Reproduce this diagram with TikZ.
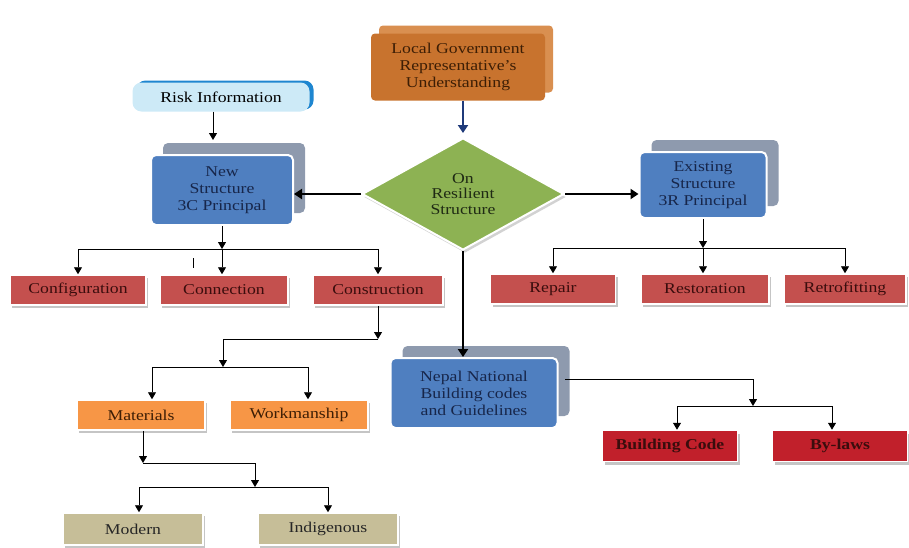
\documentclass[tikz,border=0pt]{standalone}
\usepackage{fontspec}
\setmainfont{Liberation Serif}[FakeStretch=1.18]
\usetikzlibrary{shapes.geometric,shadows,arrows.meta}
\definecolor{boxblue}{HTML}{4F7FC0}
\definecolor{backgray}{HTML}{8E9AAE}
\definecolor{navytxt}{HTML}{17264A}
\definecolor{redbox}{HTML}{C4504E}
\definecolor{darkredbox}{HTML}{C1202B}
\definecolor{redtxt}{HTML}{3A0D0D}
\definecolor{orangebox}{HTML}{F79646}
\definecolor{tanbox}{HTML}{C6BE98}
\definecolor{topfront}{HTML}{C8732E}
\definecolor{topback}{HTML}{D98F50}
\definecolor{brtxt}{HTML}{3D1E05}
\definecolor{leafgreen}{HTML}{8DB253}
\definecolor{greentxt}{HTML}{1F2A14}
\definecolor{riskblue}{HTML}{CDEAF7}
\definecolor{riskedge}{HTML}{1E86D0}
\definecolor{navyarrow}{HTML}{1F3A7A}
\tikzset{
  txt/.style={font=\fontsize{15}{17}\selectfont, align=center, inner sep=0pt},
  flatbox/.style={txt, rectangle, draw=white, line width=1.5pt, text=redtxt,
    drop shadow={shadow xshift=2pt, shadow yshift=-3pt, fill=black!45, opacity=.5}},
  redb/.style={flatbox, fill=redbox, minimum height=30pt},
  darkredb/.style={flatbox, fill=darkredbox, minimum height=31pt, font=\fontsize{15}{17}\selectfont\bfseries},
  orangeb/.style={flatbox, fill=orangebox, minimum height=30pt, text=brtxt},
  tanb/.style={flatbox, fill=tanbox, minimum height=32pt, text=black!85},
  blueb/.style={txt, rectangle, rounded corners=5pt, fill=boxblue, draw=white, line width=2pt,
    text=navytxt, copy shadow={shadow xshift=12pt, shadow yshift=12pt, fill=backgray, draw=none}},
  topb/.style={txt, rectangle, rounded corners=4pt, fill=topfront, draw=none, text=brtxt,
    copy shadow={shadow xshift=8pt, shadow yshift=8pt, fill=topback, draw=none}},
  diam/.style={txt, font=\fontsize{15}{15.5}\selectfont, diamond, aspect=1.8, fill=leafgreen, draw=white, line width=2pt, text=greentxt,
    drop shadow={shadow xshift=2pt, shadow yshift=-3pt, fill=black!35, opacity=.5}},
  riskb/.style={txt, rectangle, rounded corners=9pt, fill=riskblue, draw=none, text=black,
    copy shadow={shadow xshift=4pt, shadow yshift=2pt, fill=riskedge, draw=none}},
  arr/.style={-{Triangle[width=8pt,length=7pt]}, line width=0.9pt, black},
  ln/.style={line width=0.9pt, black},
  bigarr/.style={-{Triangle[width=10pt,length=8pt]}, line width=2.2pt, black},
}
\begin{document}
\begin{tikzpicture}[x=1pt,y=-1pt]
\useasboundingbox (0,0) rectangle (909,547);
% main nodes
\node[topb, minimum width=174pt, minimum height=67pt] (lgr) at (458,67)
  {Local Government\\Representative’s\\Understanding};
\node[diam, minimum width=202pt, minimum height=112pt] (ors) at (463,194)
  {On\\Resilient\\Structure};
\node[riskb, minimum width=177pt, minimum height=29pt] (risk) at (221,97) {Risk Information};
\node[blueb, minimum width=142pt, minimum height=70pt] (new) at (222,190)
  {New\\Structure\\3C Principal};
\node[blueb, minimum width=127pt, minimum height=66pt] (exist) at (703,185)
  {Existing\\Structure\\3R Principal};
\node[blueb, minimum width=167pt, minimum height=70pt] (nepal) at (474,393)
  {Nepal National\\Building codes\\and Guidelines};
% red boxes left
\node[redb, minimum width=136pt] (conf) at (78,290) {Configuration};
\node[redb, minimum width=128pt] (conn) at (224,290) {Connection};
\node[redb, minimum width=130pt] (cons) at (378,290) {Construction};
% red boxes right
\node[redb, minimum width=125pt] (rep) at (553,289) {Repair};
\node[redb, minimum width=128pt] (rest) at (705,289) {Restoration};
\node[redb, minimum width=122pt] (retro) at (845,289) {Retrofitting};
% orange
\node[orangeb, minimum width=128pt] (mat) at (141,415) {Materials};
\node[orangeb, minimum width=138pt] (wm) at (299,415) {Workmanship};
% tan
\node[tanb, minimum width=140pt] (mod) at (133,529) {Modern};
\node[tanb, minimum width=140pt] (ind) at (328,529) {Indigenous};
% dark red
\node[darkredb, minimum width=135pt] (bc) at (670,446) {Building Code};
\node[darkredb, minimum width=135pt] (bl) at (840,446) {By-laws};

% main arrows
\draw[-{Triangle[width=10pt,length=8pt]}, line width=2.6pt, navyarrow, shorten >=4pt] (lgr.south -| ors.north) -- (ors.north);
\draw[bigarr] (ors.west) -- (new.east |- ors.west);
\draw[bigarr] (ors.east) -- (exist.west |- ors.east);
\draw[bigarr] (ors.south) -- (ors.south |- nepal.north);
\draw[arr, shorten >=14pt] (risk.south -| 213,0) -- (new.north -| 213,0);

% new structure tree
\coordinate (j1) at (222,249);
\draw[arr] (new.south) -- (j1);
\draw[ln] (conf.north |- j1) -- (cons.north |- j1);
\draw[arr] (conf.north |- j1) -- (conf.north);
\draw[arr] (j1) -- (conn.north -| j1);
\draw[arr] (cons.north |- j1) -- (cons.north);
\draw[line width=0.8pt] (193,258) -- (193,268);

% existing structure tree
\coordinate (j2) at (703,248);
\draw[arr] (exist.south) -- (j2);
\draw[ln] (rep.north |- j2) -- (retro.north |- j2);
\draw[arr] (rep.north |- j2) -- (rep.north);
\draw[arr] (j2) -- (rest.north -| j2);
\draw[arr] (retro.north |- j2) -- (retro.north);

% construction tree
\coordinate (j3) at (378,339);
\coordinate (j4) at (223,367);
\draw[arr] (cons.south) -- (j3);
\draw[arr] (j3) -- (223,339) -- (j4);
\draw[ln] (152,367) -- (308,367);
\draw[arr] (152,367) -- (152,0 |- mat.north);
\draw[arr] (308,367) -- (308,0 |- wm.north);

% materials tree
\coordinate (j5) at (143,463);
\coordinate (j6) at (255,487);
\draw[arr] (143,0 |- mat.south) -- (j5);
\draw[arr] (j5) -- (255,463) -- (j6);
\draw[ln] (139,487) -- (328,487);
\draw[arr] (139,487) -- (139,0 |- mod.north);
\draw[arr] (328,487) -- (ind.north);

% nepal tree
\coordinate (j7) at (753,406);
\draw[arr] (565,379) -- (753,379) -- (j7);
\draw[ln] (677,406) -- (832,406);
\draw[arr] (677,406) -- (677,0 |- bc.north);
\draw[arr] (832,406) -- (832,0 |- bl.north);
\end{tikzpicture}
\end{document}
